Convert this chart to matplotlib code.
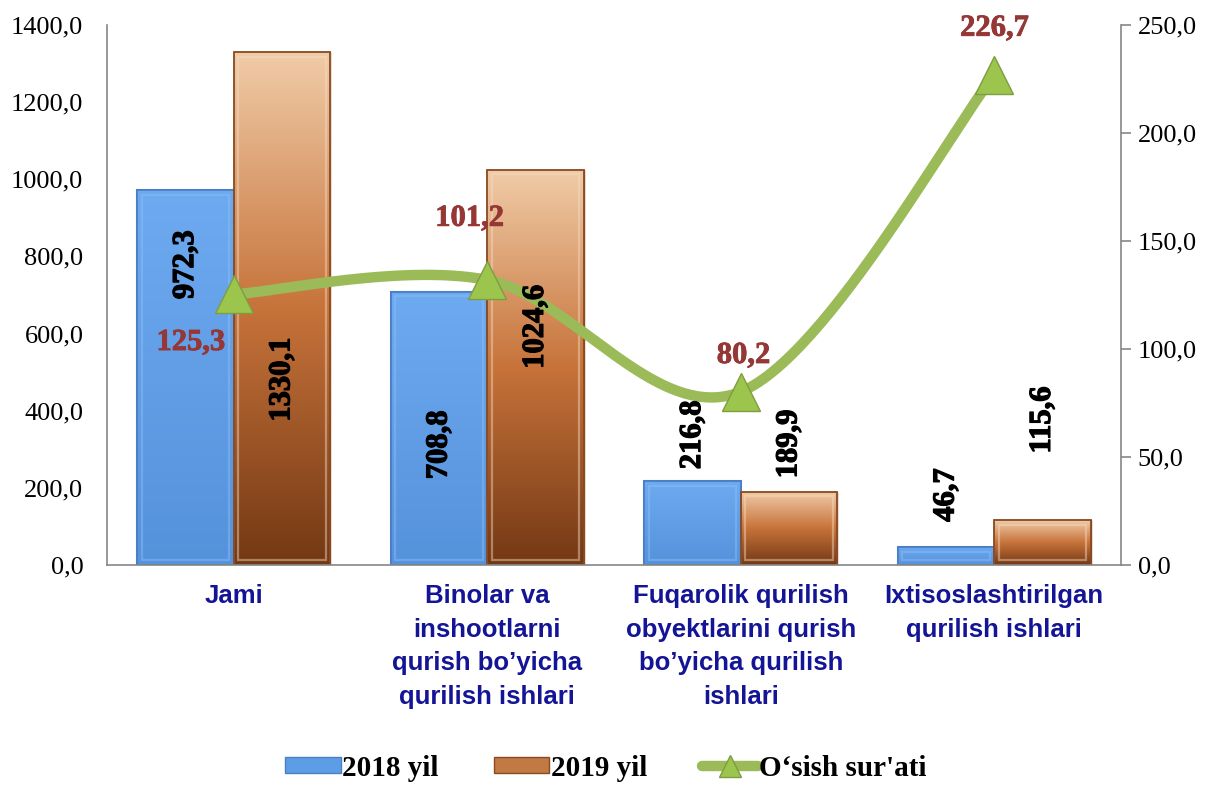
import numpy as np
import matplotlib
matplotlib.use('Agg')
import matplotlib.pyplot as plt
import matplotlib.patheffects as pe
from matplotlib.colors import LinearSegmentedColormap
from matplotlib.patches import Rectangle, Patch
from matplotlib.lines import Line2D
from matplotlib.ticker import FuncFormatter, MultipleLocator

# ---------------- data ----------------
categories = ["Jami",
              "Binolar va\ninshootlarni\nqurish bo’yicha\nqurilish ishlari",
              "Fuqarolik qurilish\nobyektlarini qurish\nbo’yicha qurilish\nishlari",
              "Ixtisoslashtirilgan\nqurilish ishlari"]
y2018 = [972.3, 708.8, 216.8, 46.7]
y2019 = [1330.1, 1024.6, 189.9, 115.6]
growth = [125.3, 132.0, 80.2, 226.7]          # plotted marker positions (right axis)
growth_labels = ["125,3", "101,2", "80,2", "226,7"]
series_names = ["2018 yil", "2019 yil", "O‘sish sur'ati"]

# label placement (left-axis units for bar labels, right-axis units for growth labels)
lab2018_y = [778, 311, 337, 181]
lab2019_y = [480, 617, 314, 376]
glab_dx = [-0.17, -0.07, 0.01, 0.0]
glab_y = [103, 160.5, 97, 248.5]

# ---------------- style ----------------
SERIF = "Liberation Serif"
SANS = "Liberation Sans"
BLUE_TOP, BLUE_BOT, BLUE_EDGE, BLUE_HI = "#6eaaf0", "#5592dc", "#4a7fc4", "#8cc0f7"
OR_TOP, OR_MID, OR_BOT, OR_EDGE = "#f0cca8", "#c7733a", "#733814", "#8a4a20"
GREEN, GREEN_MK, GREEN_EDGE = "#9bbb59", "#9cc54e", "#7f9c40"
LAB_RED = "#953735"
CAT_COLOR = "#141496"
GRID_GRAY = "#868686"

fig = plt.figure(figsize=(12.12, 7.85), dpi=100)
ax = fig.add_axes([107/1212, 1-565/785, (1121-107)/1212, (565-25)/785])
ax2 = ax.twinx()

x = np.arange(len(categories))
w = 0.38

cmap_blue = LinearSegmentedColormap.from_list("b", [BLUE_BOT, BLUE_TOP])
cmap_or = LinearSegmentedColormap.from_list("o", [OR_BOT, OR_MID, OR_TOP])

b1 = ax.bar(x - w/2, y2018, width=w, color=BLUE_TOP, edgecolor=BLUE_EDGE, linewidth=1.5, zorder=2)
b2 = ax.bar(x + w/2, y2019, width=w, color=OR_MID, edgecolor=OR_EDGE, linewidth=1.0, zorder=2)

grad = np.linspace(0, 1, 256).reshape(-1, 1)
for bars, cm in ((b1, cmap_blue), (b2, cmap_or)):
    for r in bars:
        x0, wd, h = r.get_x(), r.get_width(), r.get_height()
        im = ax.imshow(grad, extent=[x0, x0 + wd, 0, h], origin='lower', aspect='auto',
                       cmap=cm, zorder=2.1, interpolation='bicubic')
        im.set_clip_path(r)
        # bevel highlight
        dx, dy = 0.018, 12
        if h > 2 * dy:
            hi = BLUE_HI if cm is cmap_blue else "#f5dcc4"
            ax.add_patch(Rectangle((x0 + dx, dy), wd - 2*dx, h - 2*dy, fill=False,
                                   edgecolor=hi, linewidth=1.6, alpha=0.45, zorder=2.2))
        ax.add_patch(Rectangle((x0, 0), wd, h, fill=False, edgecolor=r.get_edgecolor(),
                               linewidth=1.3, zorder=2.3))

ax.set_xlim(-0.5, len(categories) - 0.5)
ax.set_ylim(0, 1400)
ax2.set_ylim(0, 250)

# ---------------- smoothed growth line (Bezier through points, like Excel smoothing) ----------------
P = np.column_stack([x, growth]).astype(float)
Pext = np.vstack([P[0], P, P[-1]])
curve = []
for i in range(len(P) - 1):
    p0, p1, p2, p3 = Pext[i], Pext[i+1], Pext[i+2], Pext[i+3]
    c1 = p1 + (p2 - p0) / 6.0
    c2 = p2 - (p3 - p1) / 6.0
    t = np.linspace(0, 1, 60)[:, None]
    seg = (1-t)**3 * p1 + 3*(1-t)**2*t * c1 + 3*(1-t)*t**2 * c2 + t**3 * p2
    curve.append(seg if i == 0 else seg[1:])
curve = np.vstack(curve)
ax2.plot(curve[:, 0], curve[:, 1], color=GREEN, linewidth=7.5, solid_capstyle='round', zorder=3)
ax2.plot(x, growth, linestyle='none', marker='^', markersize=27, markerfacecolor=GREEN_MK,
         markeredgecolor=GREEN_EDGE, markeredgewidth=1.0, zorder=4)

# ---------------- labels ----------------
fmt = lambda v: f"{v:.1f}".replace('.', ',')
thick = [pe.withStroke(linewidth=0.9, foreground='black')]
for i in range(len(x)):
    ax2.text(x[i] - w/2, lab2018_y[i], fmt(y2018[i]), transform=ax.transData, rotation=90,
             ha='center', va='center', fontsize=22, fontweight='bold', family=SERIF,
             color='black', zorder=6, path_effects=thick)
    ax2.text(x[i] + w/2, lab2019_y[i], fmt(y2019[i]), transform=ax.transData, rotation=90,
             ha='center', va='center', fontsize=22, fontweight='bold', family=SERIF,
             color='black', zorder=6, path_effects=thick)
    ax2.text(x[i] + glab_dx[i], glab_y[i], growth_labels[i], ha='center', va='center',
             fontsize=22, fontweight='bold', family=SERIF, color=LAB_RED, zorder=6,
             path_effects=[pe.withStroke(linewidth=0.6, foreground=LAB_RED)])

# ---------------- axes styling ----------------
for a in (ax, ax2):
    a.spines['top'].set_visible(False)
    for s in ('left', 'right', 'bottom'):
        a.spines[s].set_color(GRID_GRAY)
        a.spines[s].set_linewidth(1.2)
ax.spines['right'].set_visible(False)
ax2.spines['left'].set_visible(False)
ax2.spines['bottom'].set_visible(False)

fmt_tick = FuncFormatter(lambda v, p: fmt(v))
ax.yaxis.set_major_locator(MultipleLocator(200))
ax.yaxis.set_major_formatter(fmt_tick)
ax2.yaxis.set_major_locator(MultipleLocator(50))
ax2.yaxis.set_major_formatter(fmt_tick)
ax.tick_params(axis='y', length=0, pad=17, labelsize=19)
ax2.tick_params(axis='y', length=7, width=1.2, color=GRID_GRAY, direction='out', pad=5, labelsize=19)
for lbl in ax.get_yticklabels() + ax2.get_yticklabels():
    lbl.set_family(SERIF)

ax.set_xticks(x)
ax.set_xticklabels(categories)
ax.tick_params(axis='x', length=0, pad=14)
for lbl in ax.get_xticklabels():
    lbl.set_family(SANS)
    lbl.set_fontweight('bold')
    lbl.set_fontsize(18.5)
    lbl.set_color(CAT_COLOR)
    lbl.set_linespacing(1.5)

# ---------------- legend ----------------
handles = [Patch(facecolor="#5d9de6", edgecolor=BLUE_EDGE, linewidth=1.0),
           Patch(facecolor="#c27a45", edgecolor=OR_EDGE, linewidth=1.0),
           Line2D([0], [0], color=GREEN, linewidth=7.5, marker='^', markersize=16,
                  markerfacecolor=GREEN_MK, markeredgecolor=GREEN_EDGE, solid_capstyle='round')]
leg = fig.legend(handles, series_names, loc='center', bbox_to_anchor=(0.5, 1 - 768/785),
                 ncol=3, frameon=False, handlelength=1.9, handleheight=0.45,
                 handletextpad=0.05, columnspacing=1.9,
                 prop={'family': SERIF, 'weight': 'bold', 'size': 21})

fig.savefig("out.png", dpi=100)
